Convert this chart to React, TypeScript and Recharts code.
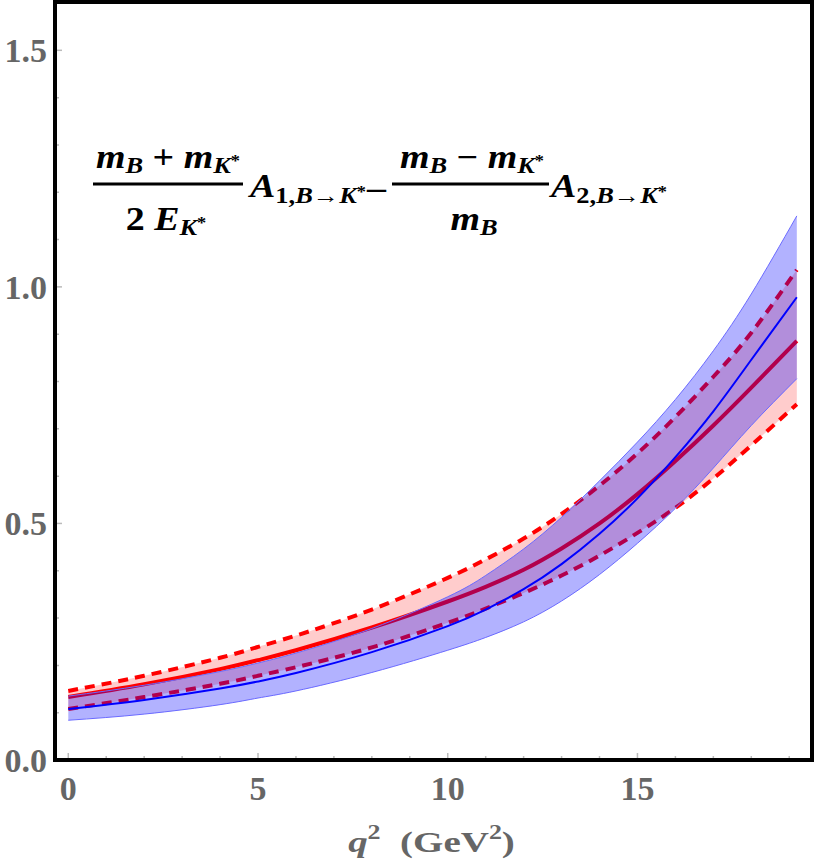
import { ComposedChart, Area, Line, XAxis, YAxis } from "recharts";

const q2 = [0, 2, 4, 5, 6, 8, 10, 11, 12, 13, 14, 15, 16, 17, 18, 19.2];

// red band: central value and dashed upper / lower bounds
const redCentral = [0.133, 0.16, 0.192, 0.211, 0.232, 0.28, 0.335, 0.366, 0.402, 0.447, 0.5, 0.562, 0.632, 0.707, 0.787, 0.886];
const redUpper = [0.146, 0.178, 0.216, 0.239, 0.263, 0.318, 0.385, 0.424, 0.468, 0.52, 0.58, 0.648, 0.725, 0.81, 0.903, 1.036];
const redLower = [0.108, 0.133, 0.161, 0.178, 0.196, 0.238, 0.29, 0.32, 0.353, 0.39, 0.432, 0.48, 0.533, 0.595, 0.665, 0.752];

// blue band
const blueCentral = [0.108, 0.127, 0.151, 0.166, 0.184, 0.228, 0.283, 0.318, 0.361, 0.414, 0.478, 0.553, 0.64, 0.737, 0.846, 0.978];
const blueUpper = [0.135, 0.158, 0.187, 0.205, 0.226, 0.278, 0.345, 0.39, 0.446, 0.513, 0.59, 0.672, 0.762, 0.865, 0.985, 1.15];
const blueLower = [0.084, 0.097, 0.117, 0.131, 0.146, 0.185, 0.232, 0.259, 0.292, 0.336, 0.392, 0.458, 0.532, 0.617, 0.707, 0.806];

const xTicks = [0, 1, 2, 3, 4, 5, 6, 7, 8, 9, 10, 11, 12, 13, 14, 15, 16, 17, 18, 19];
const xMajor = [0, 5, 10, 15];
const yTicks = [0, 0.1, 0.2, 0.3, 0.4, 0.5, 0.6, 0.7, 0.8, 0.9, 1, 1.1, 1.2, 1.3, 1.4, 1.5];
const yMajor = [0, 0.5, 1, 1.5];

const data = q2.map((x, i) => ({
  x,
  red: redCentral[i],
  redHi: redUpper[i],
  redLo: redLower[i],
  redBand: [redLower[i], redUpper[i]],
  blue: blueCentral[i],
  blueHi: blueUpper[i],
  blueLo: blueLower[i],
  blueBand: [blueLower[i], blueUpper[i]],
}));

const SERIF = '"Liberation Serif", "Times New Roman", Tinos, "DejaVu Serif", serif';
const serif = { fontFamily: SERIF };
const GREY = "#666";
const TICK = "#bbb";

const XTick = ({ x, y, payload }: any) => {
  const major = xMajor.includes(payload.value);
  return (
    <g>
      <line x1={x} x2={x} y1={y - 2} y2={y - (major ? 7 : 4)} stroke={TICK} strokeWidth={1.5} />
      {major && (
        <text x={x} y={y + 40} textAnchor="middle" style={serif} fontWeight="bold" fontSize={34} fill={GREY}>
          {payload.value}
        </text>
      )}
    </g>
  );
};

const YTick = ({ x, y, payload }: any) => {
  const major = yMajor.some((m) => Math.abs(m - payload.value) < 1e-6);
  return (
    <g>
      <line x1={x + 2} x2={x + (major ? 7 : 4)} y1={y} y2={y} stroke={TICK} strokeWidth={1.5} />
      {major && (
        <text x={x - 8} y={y + 12} textAnchor="end" style={serif} fontWeight="bold" fontSize={34} fill={GREY}>
          {payload.value.toFixed(1)}
        </text>
      )}
    </g>
  );
};

const TopTick = ({ x, y }: any) => (
  <line x1={x} x2={x} y1={y + 2} y2={y + 4} stroke={TICK} strokeWidth={1.5} />
);
const RightTick = ({ x, y }: any) => (
  <line x1={x - 2} x2={x - 4} y1={y} y2={y} stroke={TICK} strokeWidth={1.5} />
);

const XLabel = ({ viewBox }: any) => {
  const cx = viewBox.x + viewBox.width / 2;
  return (
    <g transform={`translate(${cx - 2},852) scale(1.3,1)`}>
      <text x={0} y={0} textAnchor="middle" style={serif} fontWeight="bold" fontSize={30} fill={GREY}>
        <tspan fontStyle="italic">q</tspan>
        <tspan fontSize={20} dy={-13}>2</tspan>
        <tspan dy={13}>{"\u2002(GeV"}</tspan>
        <tspan fontSize={20} dy={-13}>2</tspan>
        <tspan dy={13}>)</tspan>
      </text>
    </g>
  );
};

// subscript K with a star, main font 33 / sub 23
const SubK = () => (
  <>
    <tspan fontSize={23} dy={5} fontStyle="italic">K</tspan>
    <tspan fontSize={16} dy={-7} fontStyle="normal">*</tspan>
  </>
);

const SubArrow = ({ n }: { n: string }) => (
  <>
    <tspan fontSize={23} dy={6}>{n},</tspan>
    <tspan fontSize={23} fontStyle="italic">B</tspan>
    <tspan fontSize={23}>{"\u2192"}</tspan>
    <tspan fontSize={23} fontStyle="italic">K</tspan>
    <tspan fontSize={16} dy={-6}>*</tspan>
  </>
);

// formula is horizontally stretched like the original picture
const SX = 1.15;
const lx = (X: number) => (X + 88 * (SX - 1)) / SX;

const Formula = () => (
  <svg width={821} height={862} style={{ position: "absolute", left: 0, top: 0, pointerEvents: "none" }}>
    <rect x={55} y={2} width={757} height={758} fill="none" stroke="#000" strokeWidth={4} />
    <line x1={93} x2={243} y1={184} y2={184} stroke="#000" strokeWidth={3} />
    <line x1={392} x2={549} y1={184} y2={184} stroke="#000" strokeWidth={3} />
    <g transform={`matrix(${SX},0,0,1,${-88 * (SX - 1)},0)`} style={serif} fontWeight="bold" fontSize={33} fill="#000">
      <text x={lx(168)} y={168} textAnchor="middle">
        <tspan fontStyle="italic">m</tspan>
        <tspan fontSize={23} dy={5} fontStyle="italic">B</tspan>
        <tspan dy={-5}>{" + "}</tspan>
        <tspan fontStyle="italic">m</tspan>
        <SubK />
      </text>
      <text x={lx(166)} y={230} textAnchor="middle">
        <tspan>{"2 "}</tspan>
        <tspan fontStyle="italic">E</tspan>
        <SubK />
      </text>
      <text x={lx(250)} y={197}>
        <tspan fontStyle="italic">A</tspan>
        <SubArrow n="1" />
      </text>
      <text x={lx(367)} y={199}>{"\u2013"}</text>
      <text x={lx(472)} y={168} textAnchor="middle">
        <tspan fontStyle="italic">m</tspan>
        <tspan fontSize={23} dy={5} fontStyle="italic">B</tspan>
        <tspan dy={-5}>{" \u2212 "}</tspan>
        <tspan fontStyle="italic">m</tspan>
        <SubK />
      </text>
      <text x={lx(474)} y={230} textAnchor="middle">
        <tspan fontStyle="italic">m</tspan>
        <tspan fontSize={23} dy={5} fontStyle="italic">B</tspan>
      </text>
      <text x={lx(551)} y={197}>
        <tspan fontStyle="italic">A</tspan>
        <SubArrow n="2" />
      </text>
    </g>
  </svg>
);

const curve = "natural" as const;

export default function App() {
  return (
    <div style={{ position: "absolute", left: 0, top: 0, width: 821, height: 862, background: "#fff" }}>
      <ComposedChart width={821} height={862} data={data} margin={{ top: 3, right: 9, left: 0, bottom: 0 }}>
        <XAxis
          dataKey="x"
          type="number"
          domain={[-0.35, 19.6]}
          ticks={xTicks}
          interval={0}
          height={102}
          tickSize={0}
          tickMargin={0}
          tickLine={false}
          axisLine={{ stroke: "#000", strokeWidth: 4 }}
          tick={<XTick />}
          label={<XLabel />}
        />
        <XAxis
          xAxisId="top"
          orientation="top"
          type="number"
          domain={[-0.35, 19.6]}
          ticks={xTicks}
          interval={0}
          height={0}
          tickSize={0}
          tickMargin={0}
          tickLine={false}
          axisLine={false}
          tick={<TopTick />}
        />
        <YAxis
          type="number"
          domain={[0, 1.6]}
          ticks={yTicks}
          interval={0}
          width={55}
          tickSize={0}
          tickMargin={0}
          tickLine={false}
          axisLine={{ stroke: "#000", strokeWidth: 4 }}
          tick={<YTick />}
        />
        <YAxis
          yAxisId="right"
          orientation="right"
          type="number"
          domain={[0, 1.6]}
          ticks={yTicks}
          interval={0}
          width={0}
          tickSize={0}
          tickMargin={0}
          tickLine={false}
          axisLine={false}
          tick={<RightTick />}
        />

        <Area dataKey="redBand" type={curve} stroke="none" fill="#ff0000" fillOpacity={0.2} isAnimationActive={false} zIndex={100} />
        <Line dataKey="redHi" type={curve} stroke="#ff0000" strokeWidth={4} strokeDasharray="10 7" dot={false} isAnimationActive={false} zIndex={101} />
        <Line dataKey="redLo" type={curve} stroke="#ff0000" strokeWidth={4} strokeDasharray="10 7" dot={false} isAnimationActive={false} zIndex={101} />
        <Line dataKey="red" type={curve} stroke="#ff0000" strokeWidth={4} dot={false} isAnimationActive={false} zIndex={101} />

        <Area dataKey="blueBand" type={curve} stroke="none" fill="#0000ff" fillOpacity={0.3} isAnimationActive={false} zIndex={102} />
        <Line dataKey="blueHi" type={curve} stroke="#6a6aff" strokeWidth={1} dot={false} isAnimationActive={false} zIndex={103} />
        <Line dataKey="blueLo" type={curve} stroke="#6a6aff" strokeWidth={1} dot={false} isAnimationActive={false} zIndex={103} />
        <Line dataKey="blue" type={curve} stroke="#0000ff" strokeWidth={2} dot={false} isAnimationActive={false} zIndex={103} />
      </ComposedChart>
      <Formula />
    </div>
  );
}
